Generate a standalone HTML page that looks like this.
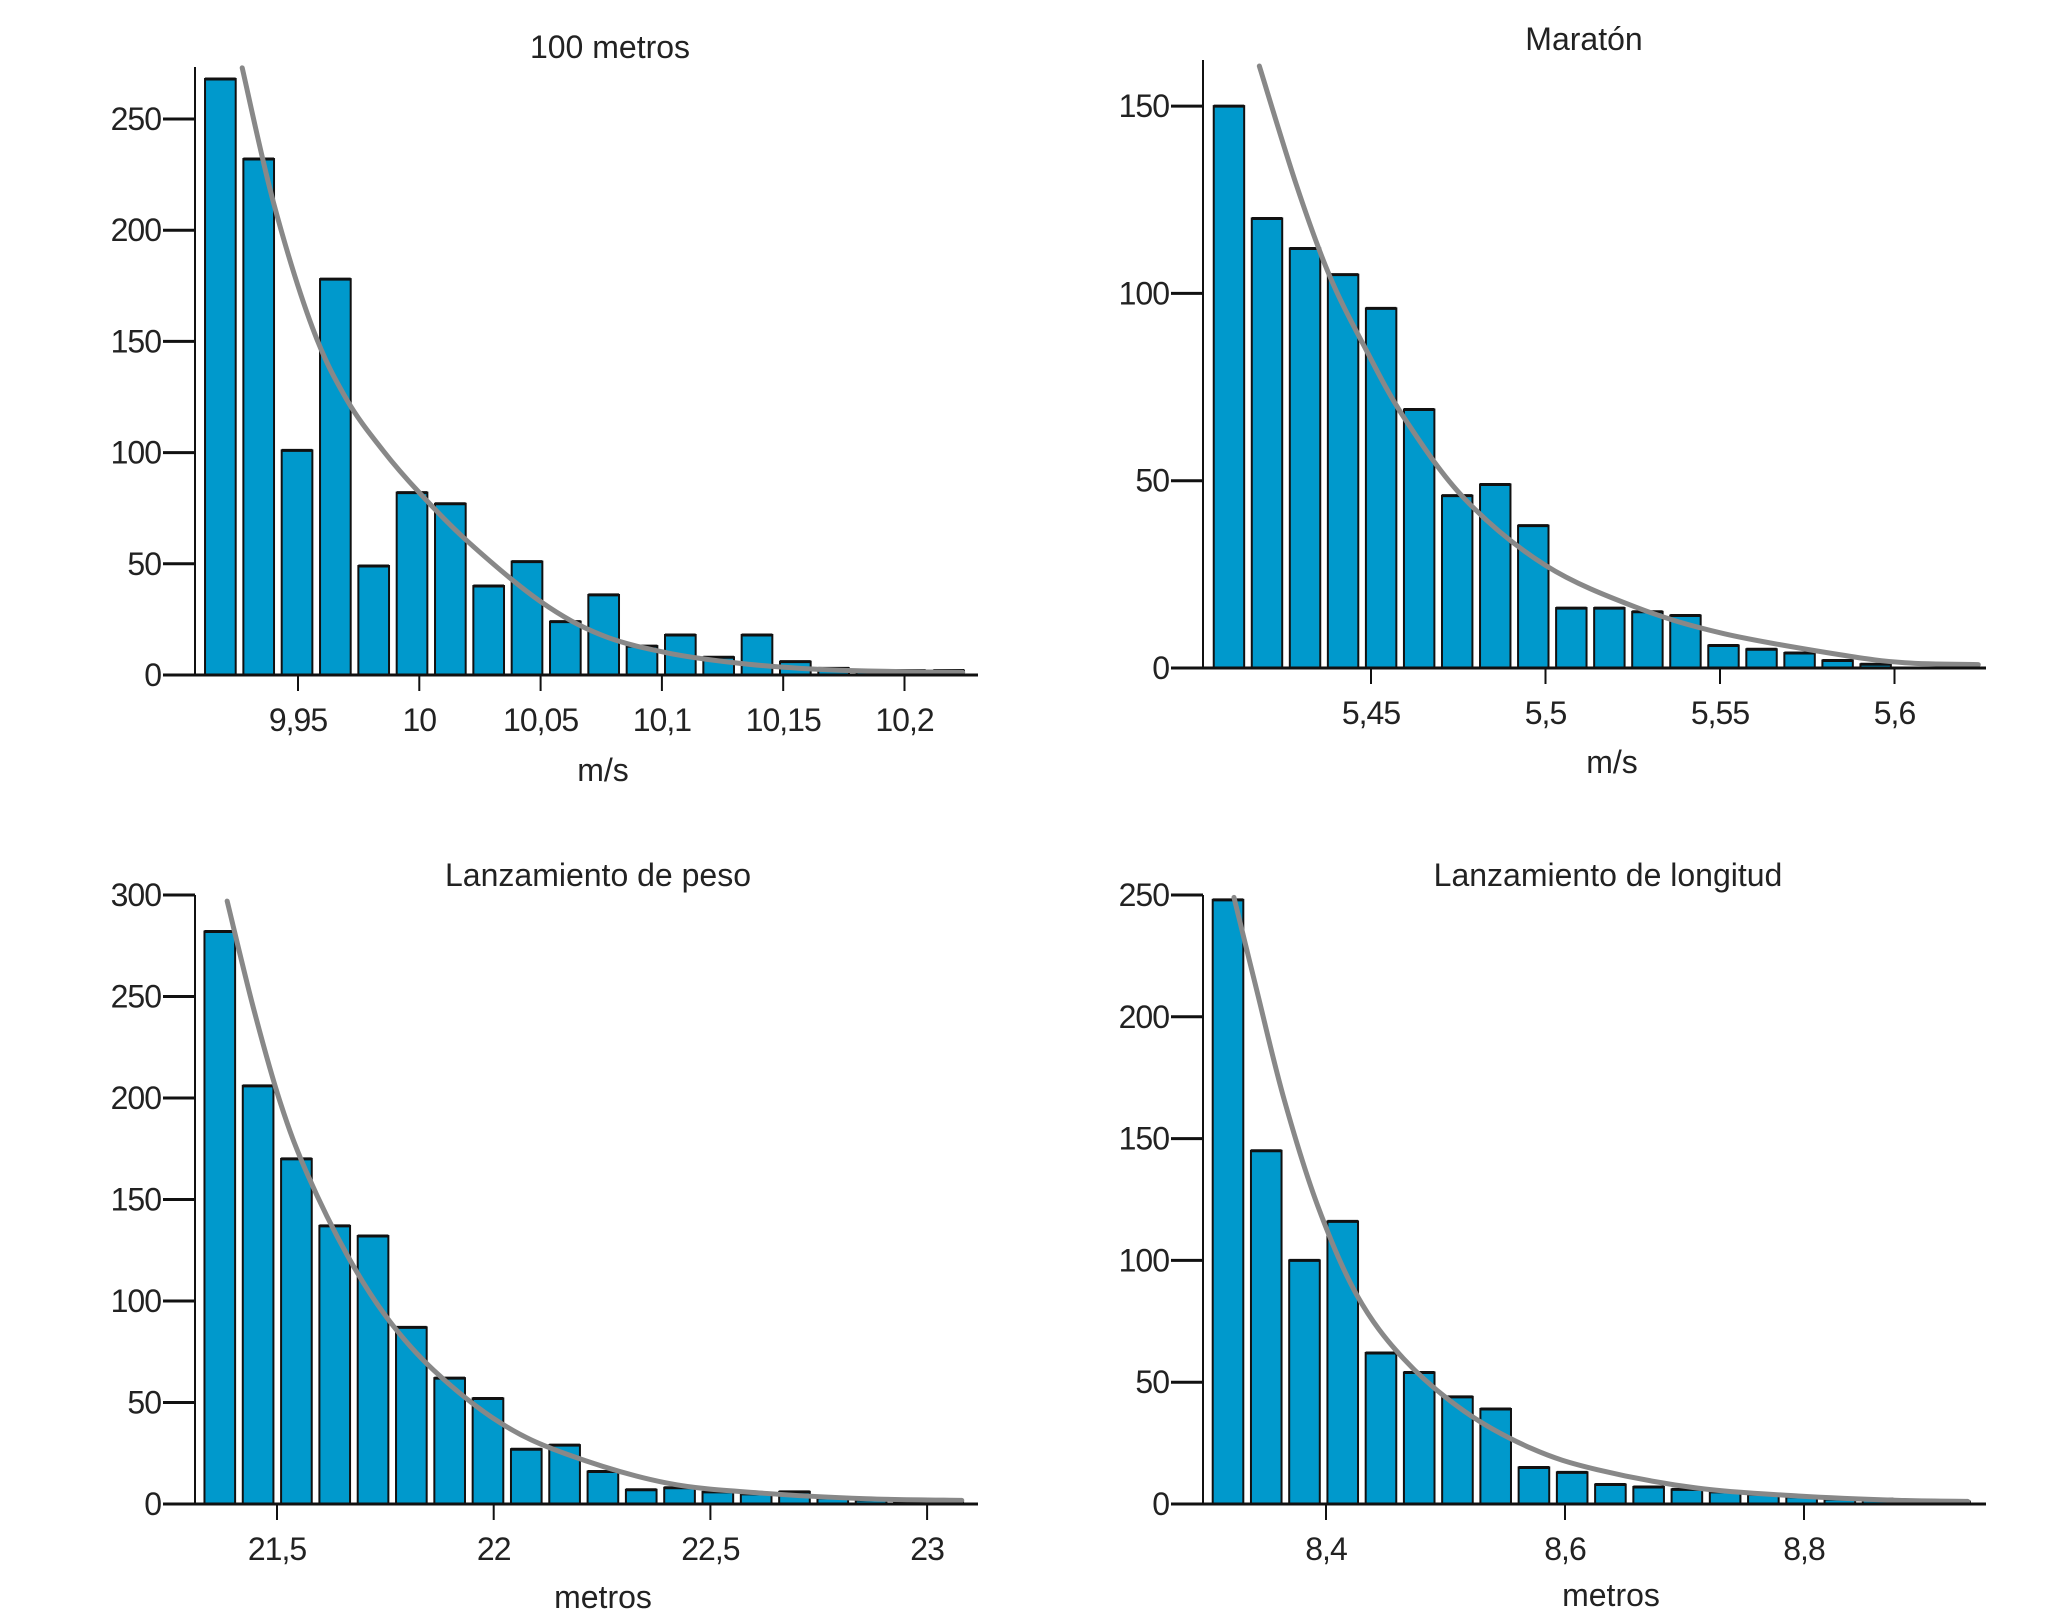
<!DOCTYPE html>
<html><head><meta charset="utf-8"><style>
html,body{margin:0;padding:0;background:#fff;}
svg{display:block;font-family:"Liberation Sans",Arial,sans-serif;}
</style></head><body>
<svg id="chart" width="2062" height="1620" viewBox="0 0 2062 1620"></svg>
<script>
// ---- 100 metros ----
const p1Counts=[268,232,101,178,49,82,77,40,51,24,36,13,18,8,18,6,3,2,2,2];
const p1XTicks=[9.95,10,10.05,10.1,10.15,10.2];
const p1XLabels=["9,95","10","10,05","10,1","10,15","10,2"];
const p1YTicks=[0,50,100,150,200,250];
const p1CurveX=[9.927,9.940,9.956,9.970,9.985,10.0,10.02,10.05,10.075,10.102,10.13,10.157,10.185,10.224];
const p1CurveY=[273,212,156,124,101,82,60,33,18,10,5.5,3,1.8,1.2];
// ---- Maratón ----
const p2Counts=[150,120,112,105,96,69,46,49,38,16,16,15,14,6,5,4,2,1];
const p2XTicks=[5.45,5.5,5.55,5.6];
const p2XLabels=["5,45","5,5","5,55","5,6"];
const p2YTicks=[0,50,100,150];
const p2CurveX=[5.418,5.4286,5.438,5.448,5.4597,5.477,5.5,5.526,5.551,5.584,5.603,5.624];
const p2CurveY=[160.7,129,105,86,66.5,45,27.4,16.2,9.2,3.6,1.4,0.9];
// ---- Lanzamiento de peso ----
const p3Counts=[282,206,170,137,132,87,62,52,27,29,16,7,8,6,5,6,3,2,1,1];
const p3XTicks=[21.5,22,22.5,23];
const p3XLabels=["21,5","22","22,5","23"];
const p3YTicks=[0,50,100,150,200,250,300];
const p3CurveX=[21.385,21.446,21.508,21.569,21.662,21.754,21.862,22.015,22.169,22.4,22.63,22.86,23.08];
const p3CurveY=[297,244,197.5,163,122.6,91.7,65.8,40,24.5,10.3,5.2,2.6,1.8];
// ---- Lanzamiento de longitud ----
const p4Counts=[248,145,100,116,62,54,44,39,15,13,8,7,6,5,4,3,2,2,1,1];
const p4XTicks=[8.4,8.6,8.8];
const p4XLabels=["8,4","8,6","8,8"];
const p4YTicks=[0,50,100,150,200,250];
const p4CurveX=[8.323,8.342,8.365,8.393,8.426,8.465,8.516,8.572,8.627,8.711,8.795,8.879,8.937];
const p4CurveY=[249,211,166,122.5,85.6,59.6,38,22.8,14.1,6.5,3.3,1.5,1.1];

const NS="http://www.w3.org/2000/svg";
const svg=document.getElementById('chart');
function mk(tag,attrs,parent){const e=document.createElementNS(NS,tag);for(const k in attrs)e.setAttribute(k,attrs[k]);(parent||svg).appendChild(e);return e;}

function panel(cfg){
  const g=mk('g',{});
  
  
  const X=v=>cfg.x0px+(v-cfg.x0)*cfg.xs;
  const Y=v=>cfg.base-v*cfg.ys;
  const step=cfg.bin*cfg.xs, bw=step*0.8;
  cfg.counts.forEach((c,i)=>{
    const cx=X(cfg.first+i*cfg.bin);
    const r=mk('rect',{x:cx-bw/2,y:Y(c),width:bw,height:cfg.base-Y(c),fill:'#0099cc',stroke:'#111','stroke-width':2},g);
    
    
    const t=mk('line',{x1:cx-bw/2,x2:cx+bw/2,y1:Y(c),y2:Y(c),stroke:'#111','stroke-width':3},g);
    
    
  });
  const pts=cfg.cx.map((v,i)=>[X(v),Y(cfg.cy[i])]);
  let d='M'+pts[0][0]+','+pts[0][1];
  for(let i=0;i<pts.length-1;i++){
    const p0=pts[Math.max(0,i-1)],p1=pts[i],p2=pts[i+1],p3=pts[Math.min(pts.length-1,i+2)];
    const c1=[p1[0]+(p2[0]-p0[0])/6,p1[1]+(p2[1]-p0[1])/6];
    const c2=[p2[0]-(p3[0]-p1[0])/6,p2[1]-(p3[1]-p1[1])/6];
    d+=' C'+c1[0]+','+c1[1]+' '+c2[0]+','+c2[1]+' '+p2[0]+','+p2[1];
  }
  const cv=mk('path',{d:d,fill:'none',stroke:'#888','stroke-width':5,'stroke-linecap':'round'},g);
  
  
  const ya=mk('line',{x1:cfg.ax,x2:cfg.ax,y1:cfg.top,y2:cfg.base,stroke:'#111','stroke-width':2},g);
  
  
  const xa=mk('line',{x1:cfg.ax,x2:cfg.xEnd,y1:cfg.base,y2:cfg.base,stroke:'#111','stroke-width':3},g);
  
  
  cfg.yt.forEach(v=>{
    const l=mk('line',{x1:cfg.ax-32,x2:cfg.ax,y1:Y(v),y2:Y(v),stroke:'#111','stroke-width':3},g);
    
    
    const t=mk('text',{x:cfg.ax-34,y:Y(v)+11,'text-anchor':'end','font-size':32,fill:'#222','letter-spacing':-1},g);
    t.textContent=v;
    
    
  });
  cfg.xt.forEach((v,i)=>{
    const l=mk('line',{x1:X(v),x2:X(v),y1:cfg.base,y2:cfg.base+16,stroke:'#111','stroke-width':2},g);
    
    
    const t=mk('text',{x:X(v),y:cfg.base+56,'text-anchor':'middle','font-size':32,fill:'#222','letter-spacing':-1},g);
    t.textContent=cfg.xl[i];
    
    
  });
  const xt=mk('text',{x:cfg.lx,y:cfg.ly,'text-anchor':'middle','font-size':32,fill:'#222'},g);
  xt.textContent=cfg.xlabel;
  
  
  const tt=mk('text',{x:cfg.tx,y:cfg.ty,'text-anchor':'middle','font-size':32,fill:'#222'},g);
  tt.textContent=cfg.title;
  
  
}

panel({name:'panel-100-metros',counts:p1Counts,xt:p1XTicks,xl:p1XLabels,yt:p1YTicks,cx:p1CurveX,cy:p1CurveY,
  ax:195,xEnd:978,top:67,base:675,ys:2.224,x0:9.95,x0px:298,xs:2426,first:9.918,bin:0.0158,
  xlabel:'m/s',lx:603,ly:781,title:'100 metros',tx:610,ty:58});
panel({name:'panel-maraton',counts:p2Counts,xt:p2XTicks,xl:p2XLabels,yt:p2YTicks,cx:p2CurveX,cy:p2CurveY,
  ax:1203,xEnd:1986,top:60,base:668,ys:3.746,x0:5.45,x0px:1371,xs:3490,first:5.4093,bin:0.0109,
  xlabel:'m/s',lx:1612,ly:773,title:'Maratón',tx:1584,ty:50});
panel({name:'panel-lanzamiento-peso',counts:p3Counts,xt:p3XTicks,xl:p3XLabels,yt:p3YTicks,cx:p3CurveX,cy:p3CurveY,
  ax:195,xEnd:978,top:895,base:1504,ys:2.03,x0:21.5,x0px:277,xs:433.4,first:21.368,bin:0.0884,
  xlabel:'metros',lx:603,ly:1608,title:'Lanzamiento de peso',tx:598,ty:886});
panel({name:'panel-lanzamiento-longitud',counts:p4Counts,xt:p4XTicks,xl:p4XLabels,yt:p4YTicks,cx:p4CurveX,cy:p4CurveY,
  ax:1203,xEnd:1986,top:895,base:1504,ys:2.436,x0:8.4,x0px:1326,xs:1195,first:8.318,bin:0.032,
  xlabel:'metros',lx:1611,ly:1606,title:'Lanzamiento de longitud',tx:1608,ty:886});
</script>
</body></html>
